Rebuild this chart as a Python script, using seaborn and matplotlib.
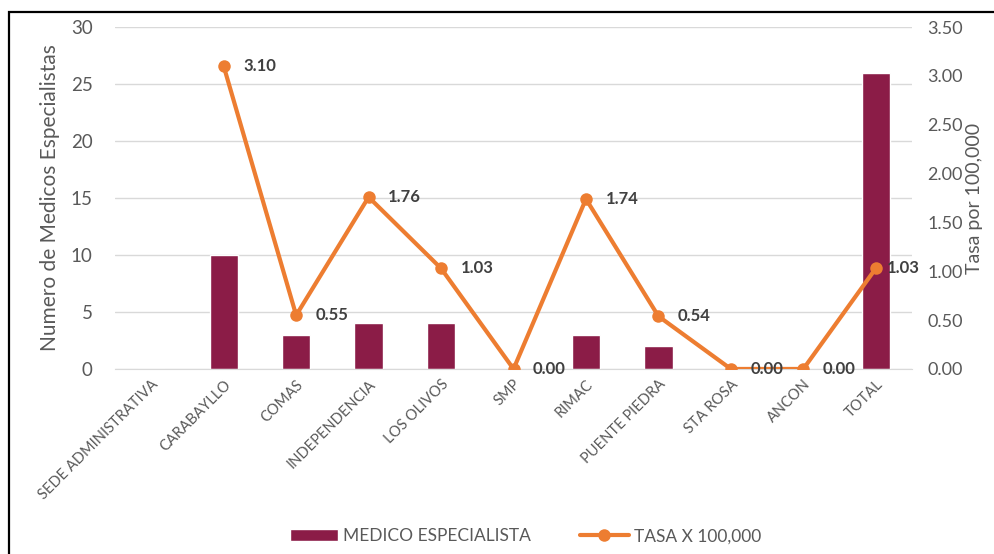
import numpy as np
import matplotlib
matplotlib.use("Agg")
import matplotlib.pyplot as plt
from matplotlib.patches import Rectangle
import seaborn as sns

# datos
establecimientos = ["SEDE ADMINISTRATIVA", "CARABAYLLO", "COMAS", "INDEPENDENCIA",
                    "LOS OLIVOS", "SMP", "RIMAC", "PUENTE PIEDRA", "STA ROSA",
                    "ANCON", "TOTAL"]
medicos = [0, 10, 3, 4, 4, 0, 3, 2, 0, 0, 26]
tasa = [np.nan, 3.10, 0.55, 1.76, 1.03, 0.00, 1.74, 0.54, 0.00, 0.00, 1.03]

sns.set_style("white")
plt.rcParams['font.family'] = ['Lato', 'DejaVu Sans']

gris = "#595959"
barra_color = "#8B1C47"
linea_color = "#ED7D31"

fig = plt.figure(figsize=(9.95, 5.54), dpi=100)
ax = fig.add_axes([0.1156, 0.334, 0.801, 0.617])

sns.barplot(x=establecimientos, y=medicos, color=barra_color, width=0.39,
            saturation=1, ax=ax, label="MEDICO ESPECIALISTA", zorder=2)
ax.set_ylim(0, 30)
ax.set_yticks(range(0, 31, 5))
ax.yaxis.grid(True, color="#D9D9D9", linewidth=1, zorder=0)
ax.set_axisbelow(True)
ax.set_ylabel("Numero de Medicos Especialistas", fontsize=15, color=gris, labelpad=8)
ax.tick_params(axis="y", labelsize=13.5, labelcolor=gris, length=0, pad=16)
ax.tick_params(axis="x", length=0, pad=6)
ax.set_xticks(range(len(establecimientos)))
ax.set_xticklabels(establecimientos, rotation=45, ha="right", rotation_mode="anchor",
                   fontsize=10.5, color=gris)
ax.set_xlim(-0.5, len(establecimientos) - 0.5)
for s in ["top", "left", "right"]:
    ax.spines[s].set_visible(False)
ax.spines["bottom"].set_color("#D9D9D9")

ax2 = ax.twinx()
idx = np.arange(len(establecimientos))
sns.lineplot(x=idx, y=tasa, ax=ax2, color=linea_color, linewidth=3, marker="o",
             markersize=9, markeredgewidth=0, label="TASA X 100,000", zorder=3)
ax2.set_ylim(0, 3.5)
ax2.set_yticks(np.arange(0, 3.51, 0.5))
ax2.set_yticklabels([f"{v:.2f}" for v in np.arange(0, 3.51, 0.5)])
ax2.tick_params(axis="y", labelsize=13, labelcolor=gris, length=0, pad=11)
ax2.set_ylabel("Tasa por 100,000", fontsize=14, color=gris, labelpad=2)
for s in ["top", "left", "right", "bottom"]:
    ax2.spines[s].set_visible(False)
ax2.grid(False)

for i, v in enumerate(tasa):
    if np.isnan(v):
        continue
    dx = 8 if i == len(tasa) - 1 else 14
    ax2.annotate(f"{v:.2f}", (i, v), xytext=(dx, 0), textcoords="offset points",
                 ha="left", va="center", fontsize=12, fontweight="bold", color="#404040")

# leyenda abajo
h1, l1 = ax.get_legend_handles_labels()
h2, l2 = ax2.get_legend_handles_labels()
if ax.get_legend():
    ax.get_legend().remove()
if ax2.get_legend():
    ax2.get_legend().remove()
fig.legend(h1 + h2, l1 + l2, loc="center", bbox_to_anchor=(0.528, 0.032), ncol=2,
           frameon=False, fontsize=12.5, labelcolor=gris, handlelength=2.8,
           columnspacing=2.8, handletextpad=0.3)

# marco exterior
fig.patches.append(Rectangle((9 / 995, -0.1), 1.2, 1 - 12 / 554 + 0.1,
                             transform=fig.transFigure, fill=False,
                             edgecolor="black", linewidth=1.6))

fig.savefig("out.png", dpi=100)
